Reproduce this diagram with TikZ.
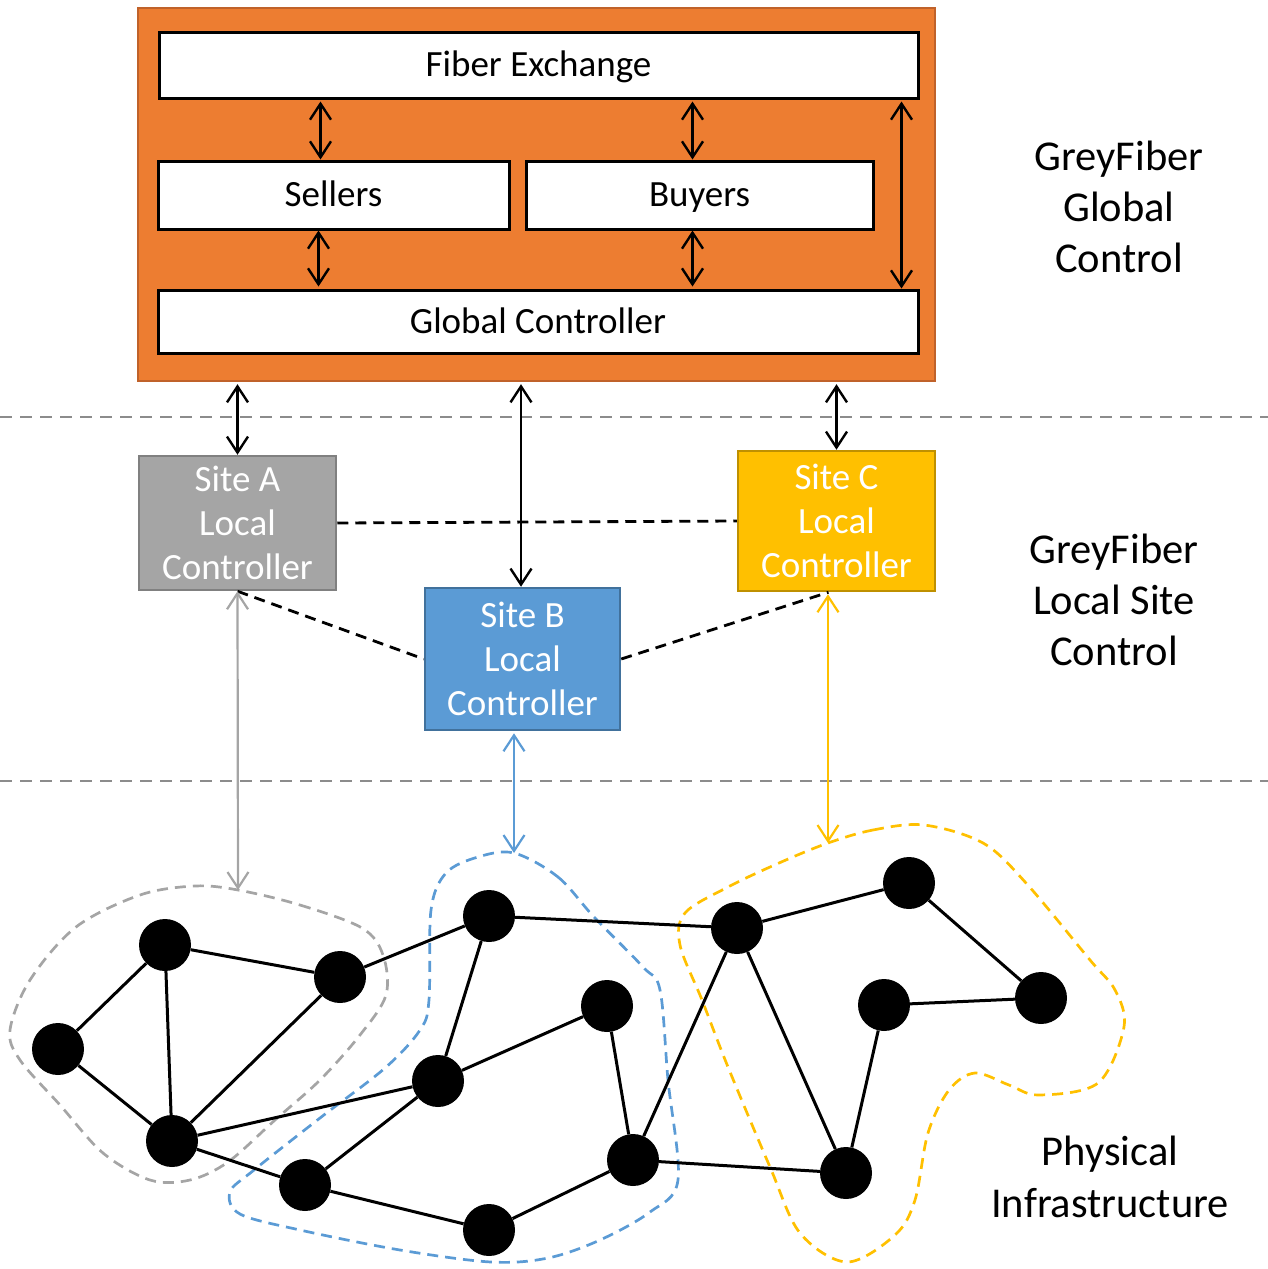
\documentclass[tikz,border=0pt]{standalone}
\usepackage{fontspec}
\setmainfont{Carlito}
\usetikzlibrary{arrows.meta,calc}
\definecolor{orangeF}{HTML}{ED7D31}
\definecolor{orangeD}{HTML}{C0622A}
\definecolor{greyF}{HTML}{A5A5A5}
\definecolor{greyD}{HTML}{808080}
\definecolor{blueF}{HTML}{5B9BD5}
\definecolor{blueD}{HTML}{41719C}
\definecolor{yelF}{HTML}{FFC000}
\definecolor{yelD}{HTML}{BF9000}
\definecolor{layerC}{HTML}{8C8C8C}
\tikzset{
  wbox/.style={draw=black,line width=3pt,fill=white,inner sep=0pt,text height=29.6pt,text depth=5.9pt,font=\fontsize{37}{44}\selectfont},
  sitebox/.style={line width=2.5pt,inner sep=0pt,text=white,align=center,font=\fontsize{37}{44}\selectfont},
  dbl/.style={{Straight Barb[length=16pt,width=21pt]}-{Straight Barb[length=16pt,width=21pt]},line width=2.4pt},
  peer/.style={dash pattern=on 11pt off 7pt,line width=2.8pt},
  layer/.style={draw=layerC,line width=2.6pt,dash pattern=on 12pt off 8pt},
  blob/.style={line width=2.7pt,dash pattern=on 11pt off 7pt},
  gnode/.style={circle,fill=black,minimum size=52pt,inner sep=0pt},
  gedge/.style={line width=3pt},
  side/.style={align=center,font=\fontsize{42.5}{51}\selectfont}
}
\begin{document}
\begin{tikzpicture}[x=1pt,y=-1pt]
\useasboundingbox (0,0) rectangle (1268,1269);
% global control
\node[draw=orangeD,fill=orangeF,line width=2.4pt,minimum width=797pt,minimum height=373pt,inner sep=0pt] (orange) at (536.5,194.5) {};
\node[wbox,minimum width=759pt,minimum height=66pt] (fiber) at (538.5,65) {Fiber Exchange};
\node[wbox,minimum width=351pt,minimum height=68pt] (sellers) at (333.5,195) {Sellers};
\node[wbox,minimum width=347pt,minimum height=68pt] (buyers) at (699.5,195) {Buyers};
\node[wbox,minimum width=760pt,minimum height=63pt] (global) at (538,321.5) {Global Controller};
\draw[dbl,shorten <=2pt] ([xshift=-13pt]sellers.north |- fiber.south) -- ([xshift=-13pt]sellers.north);
\draw[dbl,shorten >=2pt] ([xshift=-15pt]sellers.south) -- ([xshift=-15pt]sellers.south |- global.north);
\draw[dbl,shorten <=2pt] ([xshift=-7pt]buyers.north |- fiber.south) -- ([xshift=-7pt]buyers.north);
\draw[dbl,shorten >=2pt] ([xshift=-7pt]buyers.south) -- ([xshift=-7pt]buyers.south |- global.north);
\draw[dbl,shorten <=2pt] ([xshift=-18pt]fiber.south east) -- ([xshift=-18pt]global.north east);
% layer separators
\draw[layer] (0,417) -- (1268,417);
\draw[layer] (0,781) -- (1268,781);
% site controllers
\node[sitebox,draw=greyD,fill=greyF,minimum width=197pt,minimum height=134pt] (siteA) at (237.5,523) {Site A\\Local\\Controller};
\node[sitebox,draw=blueD,fill=blueF,minimum width=195pt,minimum height=142pt] (siteB) at (522.5,659) {Site B\\Local\\Controller};
\node[sitebox,draw=yelD,fill=yelF,minimum width=197pt,minimum height=140pt] (siteC) at (836.5,521) {Site C\\Local\\Controller};
\draw[dbl,shorten <=2pt] (siteA.north |- orange.south) -- (siteA.north);
\draw[dbl,shorten <=2pt] ([xshift=-1.5pt]siteB.north |- orange.south) -- ([xshift=-1.5pt]siteB.north);
\draw[dbl,shorten <=2pt] (siteC.north |- orange.south) -- (siteC.north);
\draw[peer] (siteA.east) -- (siteC.west);
\draw[peer] (siteA.south) -- (siteB.west);
\draw[peer] (siteB.east) -- ([xshift=-8pt]siteC.south);
% side labels
\node[side] (lg) at (1119,207) {GreyFiber\\Global\\Control};
\node[side] (ll) at (1114,600) {GreyFiber\\Local Site\\Control};
\node[side,font=\fontsize{42.5}{52}\selectfont] (lp) at (1110,1177) {Physical\\Infrastructure};
% blobs
\coordinate (aTop) at (238,890);
\coordinate (bTop) at (514,853);
\coordinate (cTop) at (828,843);
\draw[blob,draw=greyF] plot[smooth cycle,tension=0.55] coordinates {(238,890) (300,905) (362,928) (383,955) (386,995) (360,1035) (320,1080) (275,1120) (228,1162) (190,1180) (150,1180) (103,1153) (60,1105) (20,1060) (10,1030) (30,980) (76,927) (140,895) (195,886)};
\draw[blob,draw=blueF] plot[smooth cycle,tension=0.55] coordinates {(514,853) (558,877) (594,917) (643,967) (660,990) (668,1080) (678,1180) (650,1212) (600,1240) (548,1258) (491,1262) (400,1250) (300,1230) (240,1214) (230,1192) (254,1170) (320,1118) (385,1068) (420,1030) (429,1000) (431,910) (446,873) (478,857)};
\draw[blob,draw=yelF] plot[smooth cycle,tension=0.55] coordinates {(828,843) (873,830) (924,825) (983,843) (1026,883) (1090,960) (1115,990) (1124,1027) (1098,1083) (1039,1095) (1009,1085) (975,1073) (949,1090) (928,1133) (915,1200) (895,1235) (847,1262) (800,1233) (770,1167) (728,1067) (702,1000) (680,945) (685,913) (728,887) (779,863)};
\draw[dbl,draw=greyF,line width=2.2pt] (siteA.south) -- (aTop);
\draw[dbl,draw=blueF,line width=2.2pt,shorten <=2pt] ([xshift=-8.5pt]siteB.south) -- (bTop);
\draw[dbl,draw=yelF,line width=2.2pt,shorten <=2pt] ([xshift=-8.5pt]siteC.south) -- (cTop);
% graph
\node[gnode] (n1) at (165,945) {};
\node[gnode] (n2) at (340,977) {};
\node[gnode] (n3) at (58,1049) {};
\node[gnode] (n4) at (172,1141) {};
\node[gnode] (n5) at (489,916) {};
\node[gnode] (n6) at (438,1081) {};
\node[gnode] (n7) at (305,1185) {};
\node[gnode] (n8) at (489,1230) {};
\node[gnode] (n9) at (607,1006) {};
\node[gnode] (n10) at (633,1160) {};
\node[gnode] (n11) at (737,928) {};
\node[gnode] (n12) at (909,883) {};
\node[gnode] (n13) at (884,1005) {};
\node[gnode] (n14) at (1041,998) {};
\node[gnode] (n15) at (846,1173) {};
\foreach \a/\b in {n1/n2,n1/n3,n1/n4,n3/n4,n2/n4,n2/n5,n5/n11,n5/n6,n4/n6,n4/n7,n6/n9,n6/n7,n7/n8,n8/n10,n9/n10,n10/n11,n10/n15,n11/n12,n11/n15,n12/n14,n13/n14,n13/n15}
  \draw[gedge] (\a) -- (\b);
\end{tikzpicture}
\end{document}
